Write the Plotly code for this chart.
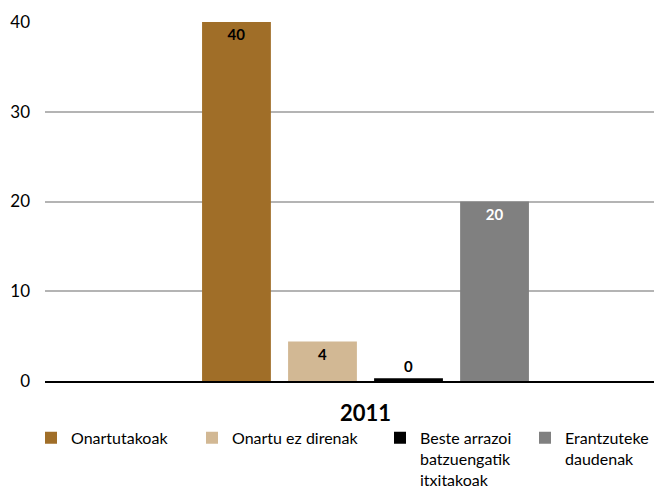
import plotly.graph_objects as go

categories = ["2011"]
series_names = ["Onartutakoak", "Onartu ez direnak", "Beste arrazoi<br>batzuengatik<br>itxitakoak", "Erantzuteke<br>daudenak"]
series_values = [[40], [4.4], [0.3], [20]]
series_labels = [["40"], ["4"], ["0"], ["20"]]
series_colors = ["#A06E28", "#D2B894", "#000000", "#808080"]
label_colors = ["#000000", "#000000", "#000000", "#FFFFFF"]
y_ticks = [0, 10, 20, 30, 40]

FONT = "Lato, 'DejaVu Sans', sans-serif"

fig = go.Figure()
legend_ids = ["legend", "legend2", "legend3", "legend4"]
for i, name in enumerate(series_names):
    fig.add_trace(go.Bar(
        x=categories, y=series_values[i], name=name,
        marker=dict(color=series_colors[i], line=dict(width=0)),
        text=series_labels[i], textposition="auto",
        insidetextanchor="end",
        insidetextfont=dict(color=label_colors[i], size=15, family=FONT, weight="bold"),
        outsidetextfont=dict(color="#000000", size=15, family=FONT, weight="bold"),
        textangle=0,
        legend=legend_ids[i],
        cliponaxis=False,
    ))

legend_x_px = [31, 192, 380, None]
layout_legends = {}
for i, lid in enumerate(legend_ids):
    if legend_x_px[i] is None:
        xpos, xanchor = 1.0, "right"
    else:
        xpos, xanchor = (legend_x_px[i] - 45) / 609, "left"
    layout_legends[lid] = dict(
        x=xpos, y=-0.111, xanchor=xanchor, yanchor="top",
        xref="paper", yref="paper",
        font=dict(family=FONT, size=16, color="#000000"),
        bgcolor="rgba(0,0,0,0)", itemwidth=30, valign="top",
    )

shift = 16 / 609
fig.update_layout(
    width=654, height=488,
    margin=dict(l=45, r=0, t=22, b=107, autoexpand=False),
    paper_bgcolor="white", plot_bgcolor="white",
    barmode="group", bargap=0.435, bargroupgap=0.2,
    font=dict(family=FONT, color="#000000"),
    showlegend=True,
    **layout_legends,
)
fig.update_xaxes(
    type="category", range=[-0.5 - shift, 0.5 - shift],
    showline=True, linecolor="#000000", linewidth=2,
    showgrid=False, ticks="",
    tickfont=dict(size=22, family=FONT, weight="bold", color="#000000"),
    ticklabelstandoff=12,
)
fig.update_yaxes(
    range=[0, 40], tickvals=y_ticks, showgrid=True, gridcolor="#B4B4B4", gridwidth=1.5,
    zeroline=False, showline=False,
    tickfont=dict(size=17, family=FONT, color="#000000"),
    ticklabelstandoff=14,
)

fig.write_html(
    "out.html",
    config={"displayModeBar": False},
    post_script="document.body.style.margin='0';document.body.style.overflow='hidden';",
)
